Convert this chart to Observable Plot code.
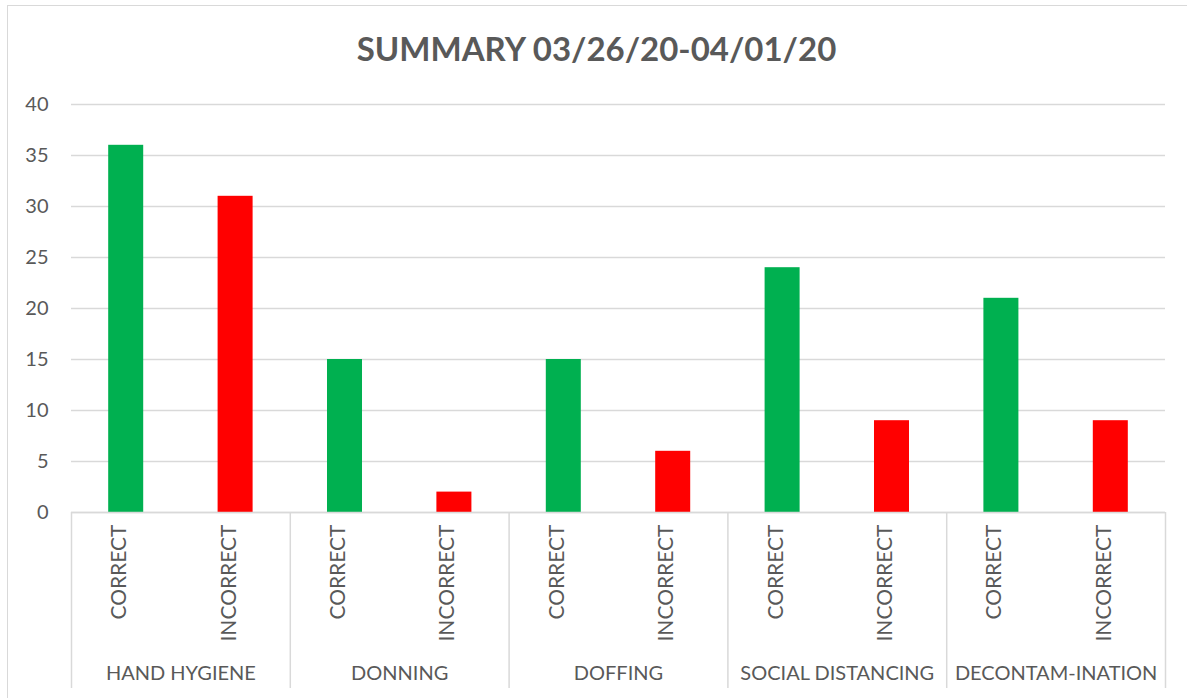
<!DOCTYPE html>
<html><head><meta charset="utf-8">
<script src="https://cdn.jsdelivr.net/npm/d3@7"></script>
<script src="https://cdn.jsdelivr.net/npm/@observablehq/plot@0.6"></script>
<style>
html,body{margin:0;padding:0;background:#fff;}
#wrap{position:relative;width:1187px;height:698px;overflow:hidden;font-family:Lato,"Open Sans",sans-serif;}
#border{position:absolute;left:7px;top:5px;width:1200px;height:720px;border:1.5px solid #d9d9d9;box-sizing:border-box;}
#title{position:absolute;left:0;top:28px;width:1193px;text-align:center;font-weight:bold;font-size:33px;color:#595959;}
#chart{position:absolute;left:0;top:0;}
</style></head>
<body><div id="wrap"><div id="border"></div><div id="chart"></div><div id="title">SUMMARY 03/26/20-04/01/20</div></div>
<script>
const groups = ["HAND HYGIENE","DONNING","DOFFING","SOCIAL DISTANCING","DECONTAM-INATION"];
const types = ["CORRECT","INCORRECT"];
const correct = [36,15,15,24,21];
const incorrect = [31,2,6,9,9];
const yTicks = [0,5,10,15,20,25,30,35,40];
const colors = ["#00B050","#FF0000"];

const rows = [];
groups.forEach((g,i)=>{
  rows.push({group:g,type:types[0],key:g+"|"+types[0],value:correct[i]});
  rows.push({group:g,type:types[1],key:g+"|"+types[1],value:incorrect[i]});
});
const keys = rows.map(d=>d.key);
const W=1187,H=698,ML=71,MR=22,MT=104,MB=186;
const step=(W-ML-MR)/keys.length;
const firstKeys = groups.map(g=>g+"|"+types[0]);
const groupRows = groups.map(g=>({group:g,key:g+"|"+types[0]}));

const chart = Plot.plot({
  width:W,height:H,marginLeft:ML,marginRight:MR,marginTop:MT,marginBottom:MB,
  style:{fontFamily:"Lato, 'Open Sans', sans-serif",color:"#595959",background:"transparent"},
  x:{type:"band",domain:keys,paddingInner:0.68,paddingOuter:0.34,round:false,axis:null},
  y:{domain:[0,40],axis:null},
  color:{domain:types,range:colors},
  marks:[
    Plot.gridY(yTicks,{stroke:"#d9d9d9",strokeOpacity:1,strokeWidth:1.3}),
    Plot.text(yTicks,{y:d=>d,text:d=>String(d),frameAnchor:"left",textAnchor:"end",dx:-23,fontSize:20,fill:"#595959"}),
    Plot.barY(rows,{x:"key",y:"value",fill:"type"}),
    Plot.ruleY([0],{stroke:"#d9d9d9",strokeWidth:1.5}),
    Plot.ruleX(firstKeys,{x:d=>d,dx:-step/2,insetTop:H-MT-MB,insetBottom:-(MB-10),stroke:"#d9d9d9",strokeWidth:1.5}),
    Plot.ruleX([keys[keys.length-1]],{x:d=>d,dx:step/2,insetTop:H-MT-MB,insetBottom:-(MB-10),stroke:"#d9d9d9",strokeWidth:1.5}),
    Plot.text(rows,{x:"key",text:"type",frameAnchor:"bottom",rotate:-90,textAnchor:"end",dy:12,fontSize:21,fill:"#595959"}),
    Plot.text(groupRows,{x:"key",text:"group",frameAnchor:"bottom",dx:step/2,dy:167,fontSize:20,fill:"#595959"})
  ]
});
document.getElementById("chart").appendChild(chart);
</script></body></html>
